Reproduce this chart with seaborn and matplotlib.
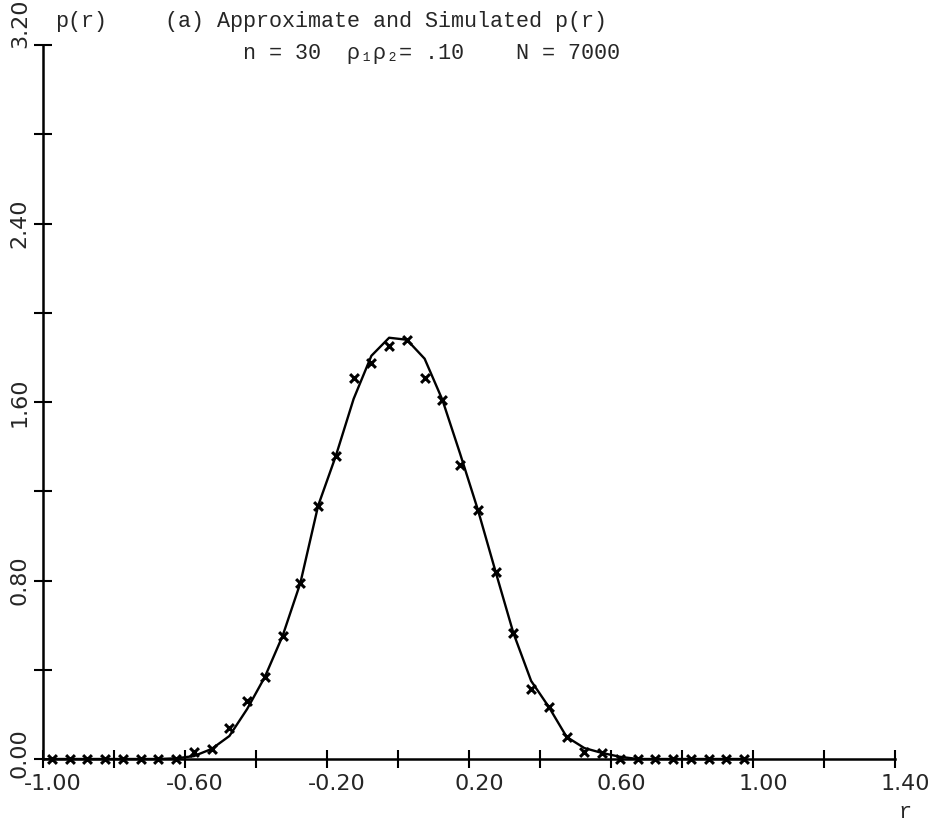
import numpy as np
import pandas as pd
import matplotlib
matplotlib.use("Agg")
import matplotlib.pyplot as plt
import matplotlib.transforms as mtransforms
import seaborn as sns

# ---------------- data ----------------
r_grid = [-0.975, -0.925, -0.875, -0.825, -0.775, -0.725, -0.675, -0.625,
          -0.575, -0.525, -0.475, -0.425, -0.375, -0.325, -0.275, -0.225,
          -0.175, -0.125, -0.075, -0.025, 0.025, 0.075, 0.125, 0.175,
          0.225, 0.275, 0.325, 0.375, 0.425, 0.475, 0.525, 0.575,
          0.625, 0.675, 0.725, 0.775, 0.825, 0.875, 0.925, 0.975]

p_approx = [0.0, 0.0, 0.0, 0.0, 0.0, 0.0, 0.0, 0.003,
            0.013, 0.045, 0.103, 0.224, 0.368, 0.552, 0.789, 1.135,
            1.359, 1.614, 1.807, 1.888, 1.879, 1.794, 1.610, 1.368,
            1.117, 0.839, 0.565, 0.350, 0.233, 0.099, 0.049, 0.027,
            0.010, 0.0, 0.0, 0.0, 0.0, 0.0, 0.0, 0.0]

p_simulated = [0.0, 0.0, 0.0, 0.0, 0.0, 0.0, 0.0, 0.0,
               0.031, 0.047, 0.139, 0.260, 0.368, 0.552, 0.789, 1.135,
               1.359, 1.709, 1.776, 1.852, 1.879, 1.709, 1.610, 1.318,
               1.117, 0.839, 0.565, 0.314, 0.233, 0.099, 0.031, 0.027,
               0.0, 0.0, 0.0, 0.0, 0.0, 0.0, 0.0, 0.0]

x_major = [-1.00, -0.60, -0.20, 0.20, 0.60, 1.00, 1.40]
x_minor = [-0.80, -0.40, 0.00, 0.40, 0.80, 1.20]
x_labels = ["-1.00", "-0.60", "-0.20", "0.20", "0.60", "1.00", "1.40"]
y_major = [0.00, 0.80, 1.60, 2.40, 3.20]
y_minor = [0.40, 1.20, 2.00, 2.80]
y_labels = ["0.00", "0.80", "1.60", "2.40", "3.20"]

title_line1 = "(a) Approximate and Simulated p(r)"
title_line2 = "n = 30  ρ₁ρ₂= .10    N = 7000"

df = pd.DataFrame({"r": r_grid, "approx": p_approx, "sim": p_simulated})

# ---------------- style ----------------
sns.set_style("ticks")
plt.rcParams["font.family"] = ["DejaVu Sans"]
mono = ["Liberation Mono", "DejaVu Sans Mono"]

W, H = 933, 830
fig = plt.figure(figsize=(W / 100, H / 100), dpi=100)
ax = fig.add_axes([43 / W, 1 - 759 / H, (895 - 43) / W, (759 - 45) / H])

sns.lineplot(data=df, x="r", y="approx", ax=ax, color="black", linewidth=1.7,
             clip_on=False)
sns.scatterplot(data=df, x="r", y="sim", ax=ax, marker="x", color="black",
                s=40, linewidth=2.2, clip_on=False, zorder=5)

ax.set_xlim(-1.0, 1.4)
ax.set_ylim(0.0, 3.2)
ax.set_xlabel("")
ax.set_ylabel("")

for s in ["top", "right"]:
    ax.spines[s].set_visible(False)
for s in ["left", "bottom"]:
    ax.spines[s].set_linewidth(1.8)
    ax.spines[s].set_color("black")

ax.set_xticks(x_major)
ax.set_xticks(x_minor, minor=True)
ax.set_xticklabels(x_labels)
ax.set_yticks(y_major)
ax.set_yticks(y_minor, minor=True)
ax.set_yticklabels(y_labels, rotation=90, va="center")

ax.tick_params(axis="both", which="both", direction="inout", length=13,
               width=1.5, color="black")
ax.tick_params(axis="x", which="major", pad=4, labelsize=16)
ax.tick_params(axis="y", which="major", pad=3, labelsize=16)

for lab in ax.get_xticklabels():
    lab.set_transform(lab.get_transform() +
                      mtransforms.ScaledTranslation(10 / 100, 0, fig.dpi_scale_trans))
ylabs = ax.get_yticklabels()
ylabs[-1].set_va("bottom")
ylabs[-1].set_transform(ylabs[-1].get_transform() +
                        mtransforms.ScaledTranslation(0, -3 / 100, fig.dpi_scale_trans))
ylabs[0].set_transform(ylabs[0].get_transform() +
                       mtransforms.ScaledTranslation(0, 6 / 100, fig.dpi_scale_trans))

# texts
fig.text(165 / W, 1 - 22 / H, title_line1, family=mono, fontsize=15.7,
         ha="left", va="center")
fig.text(243 / W, 1 - 53 / H, title_line2, family=mono, fontsize=15.7,
         ha="left", va="center")
fig.text(55 / W, 1 - 22 / H, "p(r)", family=mono, fontsize=15.7,
         ha="left", va="center")
fig.text(905 / W, 1 - 812 / H, "r", family=mono, fontsize=15.7,
         ha="center", va="center")

fig.savefig("out.png", dpi=100, facecolor="white")
